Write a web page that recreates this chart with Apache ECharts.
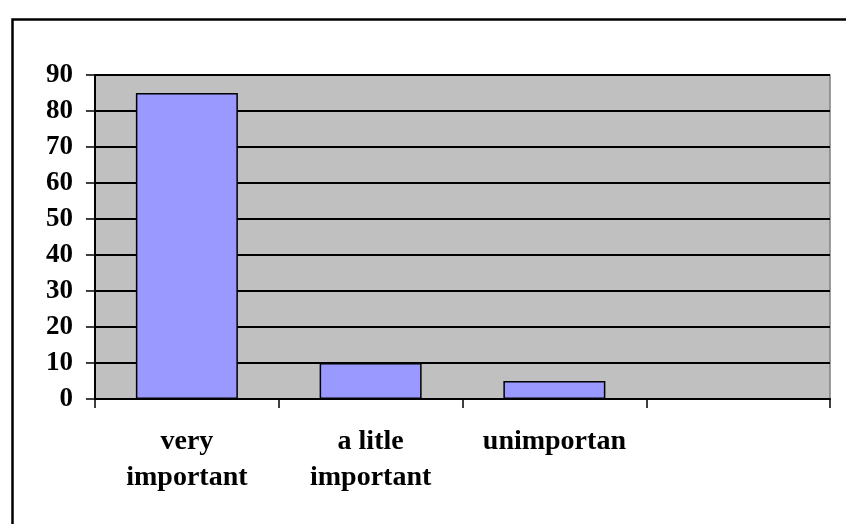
<!DOCTYPE html>
<html>
<head>
<meta charset="utf-8">
<script src="https://cdn.jsdelivr.net/npm/echarts@6/dist/echarts.min.js"></script>
<style>
  html, body { margin: 0; padding: 0; background: #ffffff; }
  #chart { width: 846px; height: 524px; }
</style>
</head>
<body>
<div id="chart"></div>
<script>
// Survey answers and their counts
const categories = ['very\nimportant', 'a litle\nimportant', 'unimportan', ''];
const values = [85, 10, 5, null];
const yMin = 0;
const yMax = 90;
const yStep = 10;

const serif = '"Liberation Serif", "Times New Roman", serif';

const chart = echarts.init(document.getElementById('chart'), null, { renderer: 'canvas' });

chart.setOption({
  animation: false,
  backgroundColor: '#ffffff',
  graphic: [{
    type: 'rect',
    left: 10, top: 17,
    shape: { width: 860, height: 540 },
    style: { fill: 'none', stroke: '#000000', lineWidth: 2.5 },
    silent: true
  }],
  grid: {
    left: 95, top: 75, right: 16, bottom: 125,
    show: true,
    backgroundColor: '#c0c0c0',
    borderColor: '#808080',
    borderWidth: 1.5
  },
  xAxis: {
    type: 'category',
    data: categories,
    boundaryGap: true,
    axisLine: { show: true, lineStyle: { color: '#000000', width: 2 } },
    axisTick: { show: true, alignWithLabel: false, length: 9, lineStyle: { color: '#000000', width: 1.5 } },
    axisLabel: {
      interval: 0,
      margin: 25,
      color: '#000000',
      fontFamily: serif,
      fontWeight: 'bold',
      fontSize: 28,
      lineHeight: 36,
      align: 'center',
      verticalAlign: 'top'
    },
    splitLine: { show: false }
  },
  yAxis: {
    type: 'value',
    min: yMin,
    max: yMax,
    interval: yStep,
    axisLine: { show: true, lineStyle: { color: '#000000', width: 2 } },
    axisTick: { show: true, length: 9, lineStyle: { color: '#000000', width: 1.5 } },
    axisLabel: {
      margin: 22,
      color: '#000000',
      fontFamily: serif,
      fontWeight: 'bold',
      fontSize: 27
    },
    splitLine: { show: true, lineStyle: { color: '#000000', width: 2 } }
  },
  series: [{
    type: 'bar',
    data: values,
    barWidth: 102,
    barGap: '-100%',
    itemStyle: { color: '#9999ff', borderColor: '#000000', borderWidth: 1.5 }
  }]
});
</script>
</body>
</html>
